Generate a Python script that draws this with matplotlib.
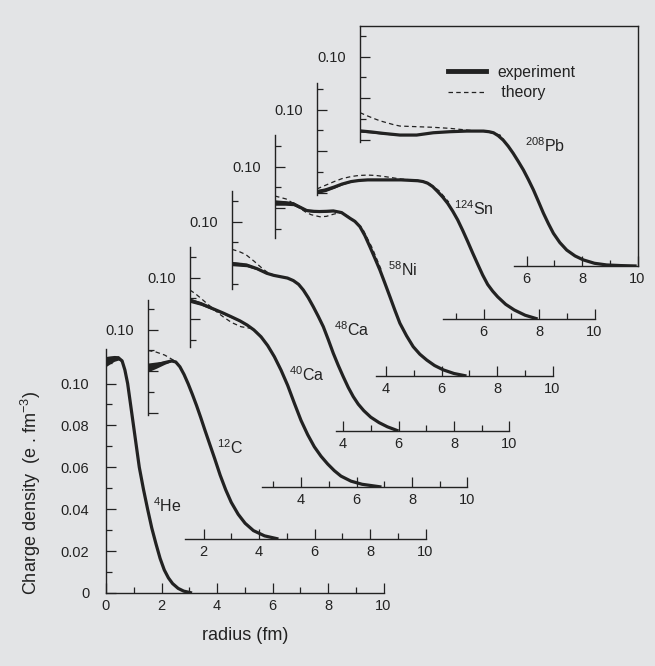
import matplotlib
matplotlib.use('Agg')
import matplotlib.pyplot as plt
from matplotlib.lines import Line2D

plt.rcParams['font.family'] = ['Liberation Sans', 'DejaVu Sans']
plt.rcParams['mathtext.fontset'] = 'custom'
plt.rcParams['mathtext.rm'] = 'Liberation Sans'
plt.rcParams['mathtext.it'] = 'Liberation Sans:italic'
plt.rcParams['mathtext.bf'] = 'Liberation Sans:bold'

# ---- data: charge densities (r in fm, rho in e.fm^-3)
he_r   = [0, 0.15, 0.3, 0.45, 0.58, 0.68, 0.78, 0.88, 0.99, 1.1, 1.2, 1.35, 1.5, 1.65, 1.8,
          1.95, 2.1, 2.25, 2.4, 2.6, 2.8, 3.1]
he_exp = [0.1105, 0.1113, 0.1120, 0.1122, 0.1108, 0.1065, 0.100, 0.0905, 0.080, 0.0695, 0.060,
          0.0495, 0.040, 0.031, 0.0235, 0.0165, 0.0110, 0.0072, 0.0045, 0.0022, 0.0009, 0.0]
he_err = [0.0024, 0.0019, 0.0014, 0.0010, 0.0005] + [0] * 17

c_r    = [0, 0.3, 0.6, 0.85, 1.0, 1.15, 1.3, 1.45, 1.6, 1.75, 1.9, 2.05, 2.2, 2.4, 2.6, 2.8,
          3.0, 3.25, 3.5, 3.8, 4.2, 4.7]
c_exp  = [0.0819, 0.0830, 0.0842, 0.0850, 0.0845, 0.0822, 0.0785, 0.0740, 0.0690, 0.0637,
          0.0580, 0.0520, 0.0462, 0.0385, 0.0305, 0.0235, 0.0175, 0.0118, 0.0075, 0.0040,
          0.0015, 0.0]
c_err  = [0.0021, 0.0015, 0.0008, 0.0003] + [0] * 18
c_th_r = [0, 0.3, 0.6, 0.9, 1.1]
c_th   = [0.0900, 0.0892, 0.0878, 0.0855, 0.0832]

ca40_r    = [0, 0.4, 0.88, 1.2, 1.48, 1.8, 2.06, 2.3, 2.56, 2.8, 3.04, 3.28, 3.52, 3.76, 4.0,
             4.24, 4.48, 4.72, 4.96, 5.2, 5.44, 5.8, 6.2, 6.9]
ca40_exp  = [0.0891, 0.0875, 0.0848, 0.0830, 0.0813, 0.0793, 0.0773, 0.0750, 0.0717, 0.0675,
             0.0622, 0.0558, 0.0485, 0.0400, 0.0318, 0.0250, 0.0192, 0.0147, 0.0110, 0.0078,
             0.0052, 0.0028, 0.0013, 0.0]
ca40_err  = [0.0010, 0.0008, 0.0006, 0.0005, 0.0005, 0.0004, 0.0004] + [0] * 17
ca40_th_r = [0, 0.2, 0.4, 0.6, 0.8, 1.0, 1.2, 1.5, 1.84, 2.2, 2.4, 2.56]
ca40_th   = [0.0940, 0.0922, 0.0900, 0.0877, 0.0855, 0.0832, 0.0812, 0.0785, 0.0765, 0.0757,
             0.0740, 0.0712]

ca48_r    = [0, 0.53, 0.9, 1.25, 1.5, 1.73, 2.0, 2.21, 2.4, 2.57, 2.75, 2.93, 3.11, 3.29, 3.47,
             3.65, 3.83, 4.01, 4.19, 4.37, 4.55, 4.75, 5.0, 5.3, 5.6, 6.0]
ca48_exp  = [0.0799, 0.0792, 0.0775, 0.0753, 0.0743, 0.0737, 0.0730, 0.0718, 0.0700, 0.0673,
             0.0636, 0.0593, 0.0547, 0.0498, 0.0436, 0.0371, 0.0313, 0.0259, 0.0208, 0.0164,
             0.0128, 0.0097, 0.0066, 0.0040, 0.0020, 0.0]
ca48_err  = [0.0010, 0.0008, 0.0005, 0.0003] + [0] * 22
ca48_th_r = [0, 0.25, 0.5, 0.8, 1.1, 1.3, 1.5]
ca48_th   = [0.0867, 0.0857, 0.0842, 0.0810, 0.0775, 0.0755, 0.0745]

ni_r    = [0, 0.35, 0.66, 0.9, 1.14, 1.4, 1.6, 1.85, 2.1, 2.4, 2.7, 2.88, 3.06, 3.24, 3.42,
           3.6, 3.78, 3.96, 4.14, 4.32, 4.5, 4.74, 4.98, 5.22, 5.47, 5.75, 6.07, 6.45, 6.9]
ni_exp  = [0.0828, 0.0826, 0.0822, 0.0806, 0.0790, 0.0786, 0.0785, 0.0786, 0.0788, 0.0780,
           0.0753, 0.0738, 0.0713, 0.0670, 0.0617, 0.0562, 0.0506, 0.0443, 0.0379, 0.0314,
           0.0252, 0.0192, 0.0140, 0.0104, 0.0076, 0.0050, 0.0029, 0.0012, 0.0]
ni_err  = [0.0013, 0.0011, 0.0009, 0.0007, 0.0005, 0.0004, 0.0004, 0.0003, 0.0003] + [0] * 20
ni_th_r = [0, 0.4, 0.65, 0.9, 1.1, 1.3, 1.62, 1.85, 2.1, 2.4, 2.8, 3.15, 3.5, 3.85]
ni_th   = [0.0859, 0.0845, 0.0825, 0.0800, 0.0783, 0.0770, 0.0760, 0.0762, 0.0772, 0.0782,
           0.0748, 0.0705, 0.0612, 0.0500]

sn_r    = [0, 0.3, 0.62, 0.9, 1.23, 1.5, 1.83, 2.43, 3.03, 3.63, 3.82, 3.99, 4.17, 4.35, 4.53,
           4.71, 4.89, 5.07, 5.25, 5.43, 5.61, 5.79, 5.97, 6.15, 6.33, 6.51, 6.8, 7.11, 7.5, 7.95]
sn_exp  = [0.0608, 0.0616, 0.0630, 0.0644, 0.0656, 0.0661, 0.0664, 0.0664, 0.0664, 0.0660,
           0.0656, 0.0648, 0.0632, 0.0608, 0.0582, 0.0552, 0.0515, 0.0473, 0.0423, 0.0370,
           0.0315, 0.0262, 0.0210, 0.0165, 0.0133, 0.0106, 0.0070, 0.0043, 0.0018, 0.0]
sn_err  = [0.0009, 0.0008, 0.0006, 0.0004, 0.0002] + [0] * 25
sn_th_r = [0, 0.3, 0.62, 0.9, 1.23, 1.5, 1.83, 2.13, 2.43, 3.03, 3.63, 4.0, 4.4, 4.75]
sn_th   = [0.0621, 0.0638, 0.0656, 0.0670, 0.0680, 0.0685, 0.0687, 0.0685, 0.0680, 0.0668,
           0.0662, 0.0652, 0.0612, 0.0558]

pb_r    = [0, 0.4, 0.84, 1.44, 2.04, 2.64, 3.24, 3.85, 4.45, 4.65, 4.81, 4.98, 5.16, 5.34, 5.52,
           5.7, 5.89, 6.07, 6.25, 6.43, 6.61, 6.79, 6.97, 7.2, 7.45, 7.75, 8.05, 8.45, 8.89,
           9.4, 9.97]
pb_exp  = [0.0645, 0.0640, 0.0633, 0.0625, 0.0625, 0.0636, 0.0641, 0.0644, 0.0644, 0.0641,
           0.0636, 0.0622, 0.0601, 0.0572, 0.0538, 0.0500, 0.0458, 0.0412, 0.0363, 0.0308,
           0.0252, 0.0202, 0.0156, 0.0112, 0.0076, 0.0048, 0.0029, 0.0013, 0.0005, 0.0002, 0.0]
pb_err  = [0.0006, 0.0005, 0.0004, 0.0002] + [0] * 27
pb_th_r = [0, 0.24, 0.48, 0.72, 0.96, 1.2, 1.44, 2.04, 2.64, 3.24, 3.85, 4.57, 5.05, 5.16]
pb_th   = [0.0732, 0.0718, 0.0705, 0.0693, 0.0684, 0.0675, 0.0668, 0.0665, 0.0662, 0.0657,
           0.0649, 0.0641, 0.0625, 0.0605]

names = ['$^{4}$He', '$^{12}$C', '$^{40}$Ca', '$^{48}$Ca', '$^{58}$Ni', '$^{124}$Sn', '$^{208}$Pb']
exp_r   = [he_r, c_r, ca40_r, ca48_r, ni_r, sn_r, pb_r]
exp_rho = [he_exp, c_exp, ca40_exp, ca48_exp, ni_exp, sn_exp, pb_exp]
exp_err = [he_err, c_err, ca40_err, ca48_err, ni_err, sn_err, pb_err]
th_r    = [None, c_th_r, ca40_th_r, ca48_th_r, ni_th_r, sn_th_r, pb_th_r]
th_rho  = [None, c_th, ca40_th, ca48_th, ni_th, sn_th, pb_th]

# ---- layout of the staggered panels (pixels in the 655x666 picture)
W, H = 655, 666
PX_X = 27.75      # px per fm
PX_Y = 2095.0     # px per e.fm^-3
origin_x = [106, 148, 190, 232, 275, 317, 360]
origin_y = [593, 539, 487, 431, 376, 319, 266]
y_span = [(0, 0.1165), (0.059, 0.114), (0.067, 0.1146), (0.068, 0.1146),
          (0.066, 0.115), (0.059, 0.1127), (0.059, 0.1146)]
x_start = [0, 1.35, 2.6, 3.75, 3.65, 4.55, 5.55]
label_pos = [(1.69, 0.0387), (2.48, 0.0406), (3.57, 0.0507), (3.69, 0.0453),
             (4.08, 0.0477), (4.95, 0.0496), (5.95, 0.0546)]

BG = '#e3e4e6'
INK = '#222222'
FS = 10.5
DASH = (0, (3.6, 2.6))

fig = plt.figure(figsize=(W / 100, H / 100), dpi=100, facecolor=BG)

for i in range(len(names)):
    is_pb = (i == len(names) - 1)
    ytop = y_span[i][1] if is_pb else 0.117
    ax = fig.add_axes([origin_x[i] / W, (H - origin_y[i]) / H,
                       10 * PX_X / W, ytop * PX_Y / H])
    ax.patch.set_visible(False)
    ax.set_xlim(0, 10)
    ax.set_ylim(0, ytop)

    for side in ['top', 'right']:
        ax.spines[side].set_visible(is_pb)
    for s in ax.spines.values():
        s.set_color(INK)
        s.set_linewidth(1.0)
    ax.spines['left'].set_bounds(*y_span[i])
    ax.spines['bottom'].set_bounds(x_start[i], 10)

    # ticks only where the spine is drawn
    xmaj = [v for v in range(0, 11, 2) if v >= x_start[i]]
    xmin = [v for v in range(1, 10, 2) if v >= x_start[i]]
    ymaj = [v / 100 for v in range(0, 11, 2) if v / 100 >= y_span[i][0] - 1e-9]
    ymin = [v / 100 for v in range(1, 12, 2) if y_span[i][0] < v / 100 < y_span[i][1]]
    ax.set_xticks(xmaj, [str(v) for v in xmaj])
    ax.set_xticks(xmin, minor=True)
    if i == 0:
        ylabels = ['0' if v == 0 else f'{v:.2f}' for v in ymaj]
    else:
        ylabels = ['0.10' if abs(v - 0.10) < 1e-9 else '' for v in ymaj]
    ax.set_yticks(ymaj, ylabels)
    ax.set_yticks(ymin, minor=True)
    ax.tick_params(which='both', direction='in', color=INK, width=0.9,
                   labelsize=FS, labelcolor=INK)
    ax.tick_params(which='major', length=7.2)
    ax.tick_params(which='minor', length=4.3)
    ax.tick_params(axis='x', pad=4)
    ax.tick_params(axis='y', pad=12 if i == 0 else 10)
    ax.tick_params(right=False, top=False)

    # theory (dashed) under experiment (thick band)
    if th_r[i] is not None:
        ax.plot(th_r[i], th_rho[i], color=INK, lw=0.9, ls=DASH, zorder=2)
    lo = [v - e for v, e in zip(exp_rho[i], exp_err[i])]
    hi = [v + e for v, e in zip(exp_rho[i], exp_err[i])]
    ax.fill_between(exp_r[i], lo, hi, color=INK, lw=0, zorder=3)
    ax.plot(exp_r[i], exp_rho[i], color=INK, lw=2.3, solid_joinstyle='round',
            solid_capstyle='butt', zorder=3)

    ax.text(label_pos[i][0], label_pos[i][1], names[i], fontsize=11.5,
            color=INK, va='baseline', ha='left')

    if is_pb:
        handles = [Line2D([], [], color=INK, lw=3.5),
                   Line2D([], [], color=INK, lw=0.9, ls=DASH)]
        ax.legend(handles, ['experiment', ' theory'], loc='center left',
                  bbox_to_anchor=(0.317, 0.765), frameon=False, fontsize=11.3,
                  handlelength=2.4, handletextpad=0.75, labelspacing=0.35,
                  borderpad=0, borderaxespad=0, labelcolor=INK)

fig.text(31 / W, 1 - 493 / H, 'Charge density  (e . fm$^{-3}$)', rotation=90,
         ha='center', va='center', fontsize=13, color=INK)
fig.text(245 / W, 1 - 636 / H, 'radius (fm)', ha='center', va='center',
         fontsize=13, color=INK)

fig.savefig('out.png', dpi=100, facecolor=BG)
